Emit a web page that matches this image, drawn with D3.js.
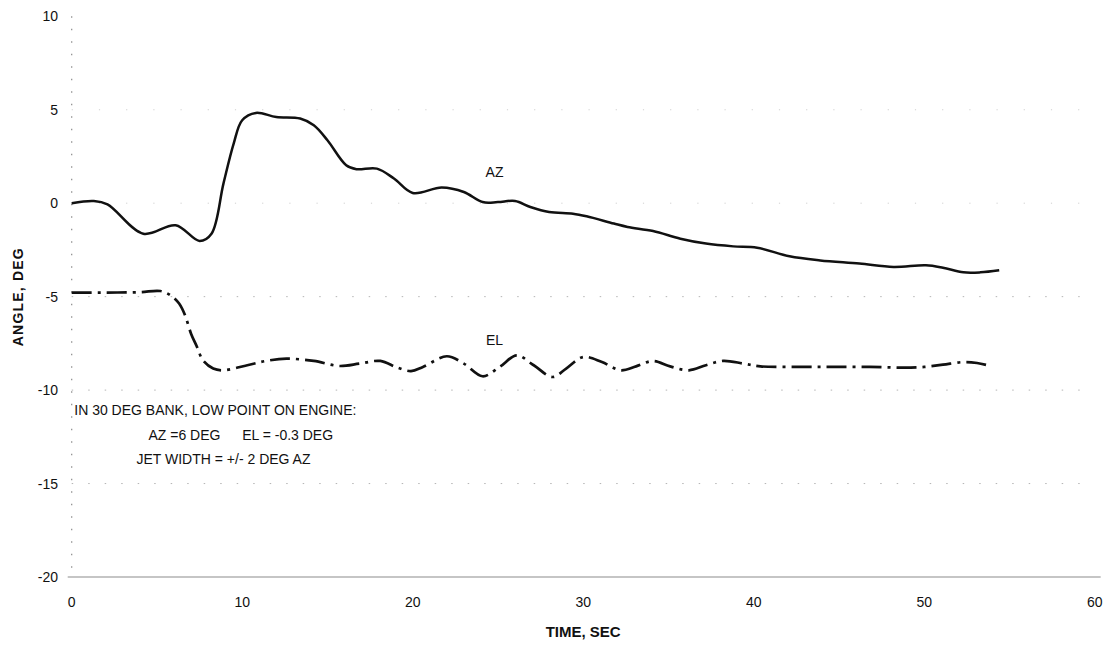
<!DOCTYPE html>
<html>
<head>
<meta charset="utf-8">
<script src="https://cdn.jsdelivr.net/npm/d3@7"></script>
<style>
  html, body { margin: 0; padding: 0; background: #fff; }
  svg { display: block; }
  text { font-family: "Liberation Sans", Arial, sans-serif; fill: #111; }
</style>
</head>
<body>
<svg id="chart" width="1113" height="645"></svg>
<script>
// ---- data ----
const xTicks = [0, 10, 20, 30, 40, 50, 60];
const yTicks = [10, 5, 0, -5, -10, -15, -20];
const gridValues = [5, 0, -5, -10, -15];

const azTime  = [0, 1.3, 2.1, 4.2, 6.1, 7.5, 8.2, 8.9, 9.5, 10.0, 10.8, 12.0, 13.4, 14.2, 15.0, 16.1, 16.7, 17.9, 18.9, 20.0, 21.7, 23.0, 24.1, 25.0, 26.0, 26.9, 28.0, 29.4, 30.2, 31.8, 32.6, 34.1, 35.7, 37.2, 38.8, 40.2, 42.1, 43.9, 46.2, 48.2, 50.1, 51.1, 52.3, 53.3, 54.4];
const azValue = [0, 0.12, -0.06, -1.63, -1.18, -2.02, -1.63, 1.05, 3.19, 4.44, 4.83, 4.61, 4.53, 4.17, 3.37, 2.03, 1.82, 1.85, 1.32, 0.55, 0.84, 0.6, 0.06, 0.06, 0.12, -0.2, -0.47, -0.56, -0.7, -1.09, -1.27, -1.49, -1.9, -2.16, -2.31, -2.38, -2.84, -3.06, -3.23, -3.41, -3.32, -3.45, -3.7, -3.7, -3.59];

const elTime  = [0, 2, 4, 5.2, 5.8, 6.3, 6.65, 7.0, 7.35, 7.7, 8.3, 8.9, 10.3, 11.4, 12.6, 14.2, 15.7, 16.9, 18.1, 19.1, 19.9, 20.6, 22.0, 23.0, 24.1, 25.1, 26.1, 27.1, 28.2, 29.0, 30.0, 31.1, 32.2, 33.1, 34.1, 35.1, 36.2, 37.2, 38.2, 39.4, 40.4, 42.7, 44.7, 46.8, 48.8, 50.0, 51.1, 52.3, 53.1, 53.9];
const elValue = [-4.78, -4.78, -4.76, -4.7, -4.93, -5.37, -6.0, -6.98, -7.69, -8.41, -8.85, -8.94, -8.67, -8.44, -8.32, -8.44, -8.71, -8.58, -8.44, -8.8, -8.98, -8.76, -8.19, -8.58, -9.26, -8.76, -8.14, -8.67, -9.3, -8.85, -8.23, -8.5, -8.94, -8.73, -8.44, -8.73, -8.94, -8.67, -8.44, -8.58, -8.73, -8.76, -8.76, -8.76, -8.8, -8.76, -8.64, -8.5, -8.55, -8.71];

const seriesLabels = [
  { text: "AZ", t: 24.8, v: 1.4 },
  { text: "EL", t: 24.8, v: -7.6 }
];
const noteLines = [
  { parts: [{ text: "IN 30 DEG BANK, LOW POINT ON ENGINE:", t: 0.15 }], v: -11.35 },
  { parts: [{ text: "AZ =6 DEG", t: 4.5 }, { text: "EL = -0.3 DEG", t: 10.0 }], v: -12.69 },
  { parts: [{ text: "JET WIDTH = +/- 2 DEG AZ", t: 3.8 }], v: -13.97 }
];

// ---- layout ----
const svg = d3.select("#chart");
const x = d3.scaleLinear().domain([0, 60]).range([71.7, 1094.7]);
const y = d3.scaleLinear().domain([-20, 10]).range([577, 16.3]);

// faint dotted gridlines (scan-like)
svg.append("g").selectAll("line").data(gridValues).join("line")
  .attr("x1", x(0)).attr("x2", x(60))
  .attr("y1", d => y(d)).attr("y2", d => y(d))
  .attr("stroke", d => d >= 0 ? "#d0d0d0" : "#b4b4b4").attr("stroke-width", 1)
  .attr("stroke-dasharray", d => d >= 0 ? "1.2,26" : "1.5,15");

// left axis: dotted vertical
svg.append("line")
  .attr("x1", x(0)).attr("x2", x(0))
  .attr("y1", y(10)).attr("y2", y(-20))
  .attr("stroke", "#8a8a8a").attr("stroke-width", 1.2)
  .attr("stroke-dasharray", "1.5,11");

// bottom axis line
svg.append("line")
  .attr("x1", x(0) - 4).attr("x2", x(60) + 6)
  .attr("y1", y(-20)).attr("y2", y(-20))
  .attr("stroke", "#8c8c8c").attr("stroke-width", 1.2);

// y tick labels
svg.append("g").selectAll("text").data(yTicks).join("text")
  .attr("x", 58).attr("y", d => y(d) + 5)
  .attr("text-anchor", "end")
  .attr("font-size", 14)
  .text(d => d);

// x tick labels
svg.append("g").selectAll("text").data(xTicks).join("text")
  .attr("x", d => x(d)).attr("y", 607)
  .attr("text-anchor", "middle")
  .attr("font-size", 14)
  .text(d => d);

// axis titles
svg.append("text")
  .attr("transform", `translate(23,${y(-5)}) rotate(-90)`)
  .attr("text-anchor", "middle")
  .attr("font-size", 14).attr("font-weight", "bold")
  .attr("letter-spacing", 1.2)
  .text("ANGLE, DEG");

svg.append("text")
  .attr("x", x(30)).attr("y", 637)
  .attr("text-anchor", "middle")
  .attr("font-size", 15).attr("font-weight", "bold")
  .text("TIME, SEC");

// lines
const line = d3.line()
  .x(d => x(d[0])).y(d => y(d[1]))
  .curve(d3.curveCatmullRom.alpha(0.5));

const azData = azTime.map((t, i) => [t, azValue[i]]);
const elData = elTime.map((t, i) => [t, elValue[i]]);

svg.append("path").datum(azData)
  .attr("d", line)
  .attr("fill", "none").attr("stroke", "#111")
  .attr("stroke-width", 2.5).attr("stroke-linejoin", "round");

svg.append("path").datum(elData)
  .attr("d", line)
  .attr("fill", "none").attr("stroke", "#111")
  .attr("stroke-width", 2.7)
  .attr("stroke-dasharray", "20,6,3,6");

// series labels
svg.append("g").selectAll("text").data(seriesLabels).join("text")
  .attr("x", d => x(d.t)).attr("y", d => y(d.v))
  .attr("text-anchor", "middle")
  .attr("font-size", 14)
  .text(d => d.text);

// annotation
const notes = svg.append("g");
noteLines.forEach(line => {
  line.parts.forEach(p => {
    notes.append("text")
      .attr("x", x(p.t)).attr("y", y(line.v))
      .attr("font-size", 14)
      .text(p.text);
  });
});
</script>
</body>
</html>
